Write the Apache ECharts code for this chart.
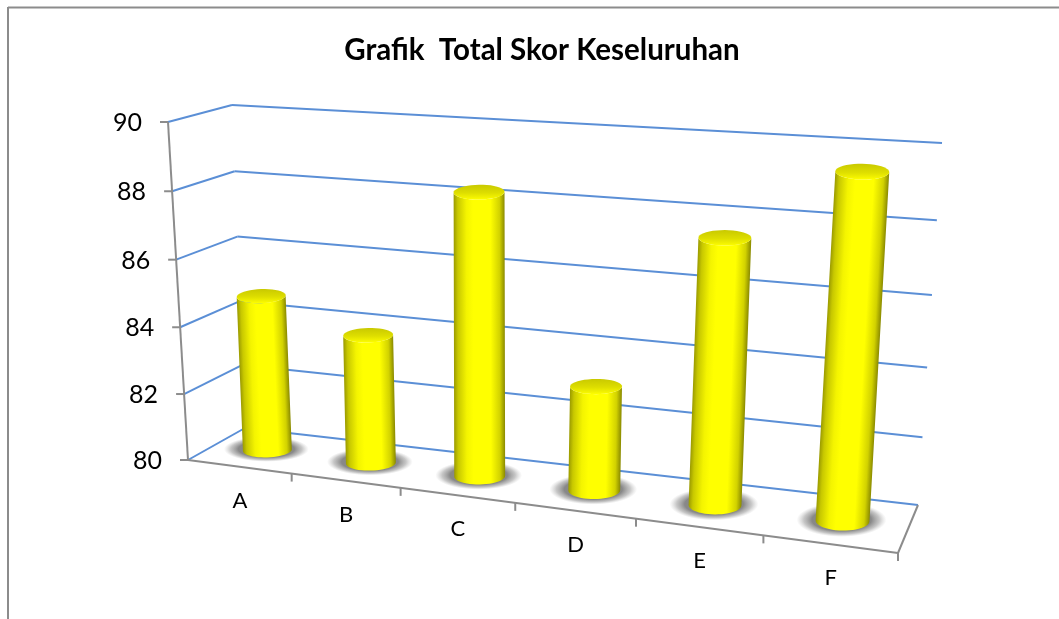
<!DOCTYPE html>
<html>
<head>
<meta charset="utf-8">
<title>Grafik Total Skor Keseluruhan</title>
<script src="https://cdn.jsdelivr.net/npm/echarts@6/dist/echarts.min.js"></script>
<style>
  html, body { margin: 0; padding: 0; background: #fff; }
  #chart { width: 1059px; height: 619px; }
</style>
</head>
<body>
<div id="chart"></div>
<script>
const categories = ["A", "B", "C", "D", "E", "F"];
const totalSkor = [84.7, 83.85, 88.25, 83.05, 87.5, 89.45];
const yTicks = [80, 82, 84, 86, 88, 90];

// corners of the 3D box on screen (front = axis plane, back = wall)
const frontBL = [188, 460], frontTL = [168, 122], frontBR = [898, 553], frontTR = [924, 164];
const backBL = [245, 428], backTL = [232, 105], backBR = [918, 505], backTR = [942, 143];
const fontName = "Lato, 'Open Sans', sans-serif";

function lerp(a, b, t) {
  return [a[0] + (b[0] - a[0]) * t, a[1] + (b[1] - a[1]) * t];
}
// perspective squeeze along an edge
function warp(t, k) {
  return t * k / (1 + t * (k - 1));
}
// u: along categories, v: along values, d: 0 front .. 1 back
function project(u, v, d) {
  let uw = warp(u, 0.855), vw = warp(v, 0.97 - 0.05 * u);
  let front = lerp(lerp(frontBL, frontTL, vw), lerp(frontBR, frontTR, vw), uw);
  let back = lerp(lerp(backBL, backTL, vw), lerp(backBR, backTR, vw), uw);
  return lerp(front, back, d);
}
// grid pixel -> 0..1 position inside the grid
function toUnit(params, pt) {
  let g = params.coordSys;
  return [(pt[0] - g.x) / g.width, (g.y + g.height - pt[1]) / g.height];
}
function ellipse(c, a, b, tilt, from, to, n) {
  let pts = [];
  for (let i = 0; i <= n; i++) {
    let th = from + (to - from) * i / n;
    let x = a * Math.cos(th), y = b * Math.sin(th);
    pts.push([c[0] + x, c[1] + y + x * tilt]);
  }
  return pts;
}
function seg(p, q, color, width) {
  return {
    type: "line",
    shape: { x1: p[0], y1: p[1], x2: q[0], y2: q[1] },
    style: { stroke: color, lineWidth: width, fill: null }
  };
}

// value axis: wall lines, ticks and labels
function renderValueAxis(params, api) {
  let t = toUnit(params, api.coord([0, api.value(1)]));
  let v = t[1];
  let f = project(0, v, 0), b = project(0, v, 1), r = project(1, v, 1);
  return {
    type: "group",
    children: [
      seg(f, b, "#5b8fd6", 2),
      seg(b, r, "#5b8fd6", 2),
      seg([f[0] - 8, f[1]], f, "#8c8c8c", 2),
      {
        type: "text",
        style: {
          x: f[0] - 26, y: f[1] + 1, text: String(api.value(1)),
          fill: "#000", font: "25px " + fontName,
          align: "right", verticalAlign: "middle"
        }
      }
    ]
  };
}

// category axis: ticks at band edges, label under the middle of the band
function renderCategoryAxis(params, api) {
  let c = api.coord([api.value(0), 80]);
  let band = api.size([1, 0])[0];
  let u0 = toUnit(params, [c[0] - band / 2, c[1]])[0];
  let u1 = toUnit(params, [c[0] + band / 2, c[1]])[0];
  let p0 = project(u0, 0, 0), p1 = project(u1, 0, 0), mid = lerp(p0, p1, 0.5);
  return {
    type: "group",
    children: [
      seg(p1, [p1[0], p1[1] + 8], "#8c8c8c", 2),
      {
        type: "text",
        style: {
          x: mid[0], y: mid[1] + 34, text: categories[api.value(0)],
          fill: "#000", font: "22px " + fontName,
          align: "center", verticalAlign: "middle"
        }
      }
    ]
  };
}

// cylinder + its floor shadow
function renderBar(params, api) {
  let i = api.value(0);
  let u = toUnit(params, api.coord([i, 80]))[0];
  let v = toUnit(params, api.coord([i, api.value(1)]))[1];
  let base = project(u, 0, 0.5), top = project(u, v, 0.5);
  base[0] += 1;
  top[0] += 1;
  let a = 24.2 + 3 * u, bBase = 7 + 3 * u, bTop = 7 + u, tilt = -0.04 + 0.06 * u;

  let len = Math.hypot(top[0] - base[0], top[1] - base[1]);
  let nx = (top[0] - base[0]) / len, ny = (top[1] - base[1]) / len;
  let px = -ny, py = nx;
  let bodyFill = new echarts.graphic.LinearGradient(
    base[0] - a * px, base[1] - a * py, base[0] + a * px, base[1] + a * py,
    [
      { offset: 0, color: "#9a9a00" },
      { offset: 0.08, color: "#c8c800" },
      { offset: 0.25, color: "#f4f400" },
      { offset: 0.38, color: "#ffff00" },
      { offset: 0.72, color: "#ffff00" },
      { offset: 0.9, color: "#d2d200" },
      { offset: 1, color: "#8a8a00" }
    ],
    true
  );
  let topFill = new echarts.graphic.LinearGradient(
    top[0], top[1] - bTop, top[0], top[1] + bTop,
    [
      { offset: 0, color: "#c9c900" },
      { offset: 0.55, color: "#dede00" },
      { offset: 0.85, color: "#f2f200" },
      { offset: 1, color: "#ffff00" }
    ],
    true
  );
  let body = ellipse(base, a, bBase, tilt, 0, Math.PI, 24)
    .concat(ellipse(top, a, bTop, tilt, Math.PI, 0, 24));
  let shadowR = a + 18;
  return {
    type: "group",
    children: [
      {
        type: "circle",
        shape: { cx: 0, cy: 0, r: shadowR },
        x: base[0] - 1,
        y: base[1] - 1,
        scaleY: bBase * 1.75 / shadowR,
        style: {
          fill: new echarts.graphic.RadialGradient(0.5, 0.5, 0.5, [
            { offset: 0, color: "rgba(125,125,125,0.95)" },
            { offset: 0.66, color: "rgba(130,130,130,0.95)" },
            { offset: 0.84, color: "rgba(160,160,160,0.6)" },
            { offset: 1, color: "rgba(190,190,190,0)" }
          ])
        }
      },
      {
        type: "polygon",
        shape: { points: body },
        style: { fill: bodyFill }
      },
      {
        type: "polygon",
        shape: { points: ellipse(top, a, bTop, tilt, 0, Math.PI * 2, 40) },
        style: { fill: topFill }
      }
    ]
  };
}

// box edges that are not tied to a single tick
function renderEdges(params, api) {
  let fb0 = project(0, 0, 0), fb1 = project(1, 0, 0), bb1 = project(1, 0, 1), ft0 = project(0, 1, 0);
  return {
    type: "group",
    children: [
      seg(ft0, fb0, "#8c8c8c", 2),
      seg(fb0, fb1, "#8c8c8c", 2),
      seg(fb1, bb1, "#8c8c8c", 2)
    ]
  };
}

let myChart = echarts.init(document.getElementById("chart"), null, { renderer: "canvas" });
let option = {
  animation: false,
  backgroundColor: "#fff",
  title: {
    text: "Grafik  Total Skor Keseluruhan",
    left: 537,
    top: 30,
    textAlign: "center",
    textStyle: { color: "#000", fontFamily: fontName, fontWeight: "bold", fontSize: 29.5 }
  },
  graphic: [
    { type: "line", shape: { x1: 8, y1: 7.5, x2: 1059, y2: 7.5 }, style: { stroke: "#8c8c8c", lineWidth: 2 } },
    { type: "line", shape: { x1: 8, y1: 7, x2: 8, y2: 619 }, style: { stroke: "#8c8c8c", lineWidth: 2 } }
  ],
  grid: { left: 188, top: 122, width: 710, height: 338 },
  xAxis: { type: "category", data: categories, show: false },
  yAxis: { type: "value", min: 80, max: 90, interval: 2, show: false },
  series: [
    {
      name: "sumbu nilai",
      type: "custom",
      silent: true,
      renderItem: renderValueAxis,
      encode: { x: 0, y: 1 },
      data: yTicks.map(t => [0, t]),
      z: 1
    },
    {
      name: "tepi",
      type: "custom",
      silent: true,
      renderItem: renderEdges,
      encode: { x: 0, y: 1 },
      data: [[0, 80]],
      z: 2
    },
    {
      name: "sumbu kategori",
      type: "custom",
      silent: true,
      renderItem: renderCategoryAxis,
      encode: { x: 0, y: 1 },
      data: categories.map((c, i) => [i, 80]),
      z: 2
    },
    {
      name: "Total Skor",
      type: "custom",
      renderItem: renderBar,
      encode: { x: 0, y: 1 },
      data: categories.map((c, i) => [i, totalSkor[i]]),
      z: 3
    }
  ]
};
myChart.setOption(option);
</script>
</body>
</html>
